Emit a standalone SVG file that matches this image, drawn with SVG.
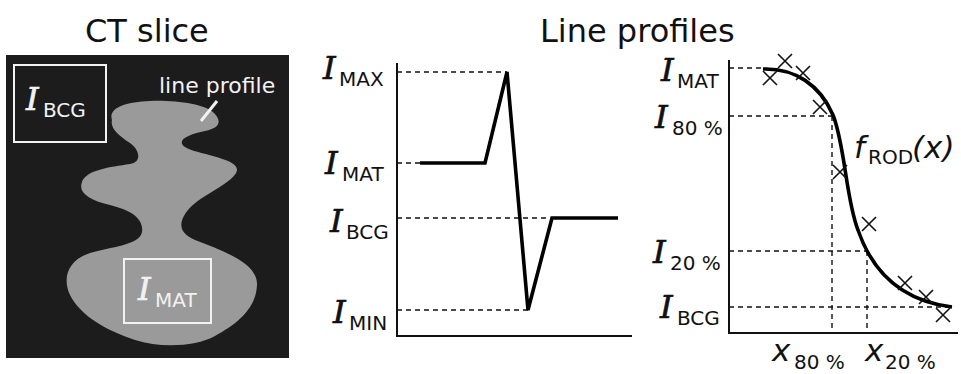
<svg xmlns="http://www.w3.org/2000/svg" width="961" height="374" viewBox="0 0 961 374">
<style>
.title{font-family:"DejaVu Sans",Verdana,sans-serif;font-size:32px;fill:#111}
.I{font-family:"DejaVu Serif","Liberation Serif",serif;font-style:italic;font-size:32px;stroke-width:0.7}
.sub{font-family:"DejaVu Sans",Verdana,sans-serif;font-size:20px}
.lbl{fill:#111;stroke:#111}
.lbl .sub,.wl .sub,.lbl .it{stroke:none}
.wl{fill:#f2f2f2;stroke:#f2f2f2}
.it{font-family:"DejaVu Sans",Verdana,sans-serif;font-style:italic;font-size:31px}
.axis{stroke:#111;stroke-width:2;fill:none}
.dash{stroke:#111;stroke-width:1.4;stroke-dasharray:5,4;fill:none}
.thick{stroke:#000;stroke-width:3.6;fill:none;stroke-linejoin:miter}
.cross{stroke:#111;stroke-width:1.6;fill:none}
</style>
<rect width="961" height="374" fill="#fff"/>

<text class="title" x="85" y="42">CT slice</text>
<text class="title" x="540" y="42">Line profiles</text>

<g id="ct-slice">
  <rect x="6" y="55" width="283" height="303" fill="#1c1c1c"/>
  <path fill="#9a9a9a" d="M 112 120 C 108 108, 125 102, 150 101 C 175 100, 205 104, 214 113 C 222 121, 220 128, 205 131 C 190 134, 175 140, 185 147 C 195 154, 238 158, 237 170 C 236 182, 200 195, 188 210 C 180 220, 176 232, 195 240 C 220 250, 258 262, 257 285 C 256 310, 235 325, 215 336 C 195 347, 160 348, 135 340 C 105 330, 80 315, 70 295 C 62 278, 68 260, 90 253 C 110 247, 140 245, 142 232 C 144 218, 130 210, 110 205 C 88 200, 78 192, 82 182 C 86 170, 110 167, 130 164 C 142 162, 140 150, 130 143 C 118 135, 110 128, 112 120 Z"/>
</g>
<g id="bcg-box">
  <rect x="14" y="65" width="92" height="77" fill="none" stroke="#f2f2f2" stroke-width="2"/>
  <text class="wl"><tspan class="I" x="26" y="110">I</tspan><tspan class="sub" x="43" y="117">BCG</tspan></text>
</g>
<g id="mat-box">
  <rect x="124" y="259" width="87" height="64" fill="none" stroke="#f2f2f2" stroke-width="2"/>
  <text class="wl"><tspan class="I" x="138" y="300">I</tspan><tspan class="sub" x="155" y="307">MAT</tspan></text>
</g>
<g id="line-profile-label">
  <text x="159" y="93" fill="#f2f2f2" font-family="DejaVu Sans,Verdana,sans-serif" font-size="22">line profile</text>
  <line x1="217" y1="101" x2="201" y2="121" stroke="#f2f2f2" stroke-width="3"/>
</g>

<g id="profile-chart">
  <path class="axis" d="M 397 63 V 336 H 632"/>
  <path class="dash" d="M 397 72 H 507 M 397 163 H 420 M 397 218 H 550 M 397 310 H 528"/>
  <path class="thick" d="M 420 163 H 485 L 507 72 L 528 310 L 552 218 H 618"/>
  <text class="lbl"><tspan class="I" x="323" y="79">I</tspan><tspan class="sub" x="339" y="86">MAX</tspan></text>
  <text class="lbl"><tspan class="I" x="325" y="174">I</tspan><tspan class="sub" x="342" y="181">MAT</tspan></text>
  <text class="lbl"><tspan class="I" x="330" y="232">I</tspan><tspan class="sub" x="346" y="239">BCG</tspan></text>
  <text class="lbl"><tspan class="I" x="333" y="323">I</tspan><tspan class="sub" x="349" y="330">MIN</tspan></text>
</g>

<g id="fit-chart">
  <path class="axis" d="M 729 60 V 333 H 958"/>
  <path class="dash" d="M 729 68 H 763 M 729 116 H 832 M 729 251 H 867 M 729 307 H 952 M 832 116 V 333 M 867 251 V 333"/>
  <path class="thick" d="M 763 69 C 795 68, 820 85, 833 115 C 845 145, 846 200, 858 230 C 870 265, 895 300, 952 307"/>
  <g class="cross">
    <path d="M 763 71 l 14 14 m 0 -14 l -14 14"/>
    <path d="M 778 54 l 14 14 m 0 -14 l -14 14"/>
    <path d="M 796 66 l 14 14 m 0 -14 l -14 14"/>
    <path d="M 813 100 l 14 14 m 0 -14 l -14 14"/>
    <path d="M 833 165 l 14 14 m 0 -14 l -14 14"/>
    <path d="M 862 217 l 14 14 m 0 -14 l -14 14"/>
    <path d="M 898 276 l 14 14 m 0 -14 l -14 14"/>
    <path d="M 919 290 l 14 14 m 0 -14 l -14 14"/>
    <path d="M 936 308 l 14 14 m 0 -14 l -14 14"/>
  </g>
  <text class="lbl"><tspan class="I" x="661" y="81">I</tspan><tspan class="sub" x="677" y="88">MAT</tspan></text>
  <text class="lbl"><tspan class="I" x="655" y="128">I</tspan><tspan class="sub" x="672" y="135">80 %</tspan></text>
  <text class="lbl"><tspan class="I" x="653" y="263">I</tspan><tspan class="sub" x="670" y="270">20 %</tspan></text>
  <text class="lbl"><tspan class="I" x="660" y="318">I</tspan><tspan class="sub" x="677" y="325">BCG</tspan></text>
  <text class="lbl"><tspan class="it" x="854" y="158">f</tspan><tspan class="sub" x="868" y="164">ROD</tspan><tspan class="it" x="912" y="158">(x)</tspan></text>
  <text class="lbl"><tspan class="it" x="772" y="361" font-size="34">x</tspan><tspan class="sub" x="794" y="369">80 %</tspan></text>
  <text class="lbl"><tspan class="it" x="865" y="361" font-size="34">x</tspan><tspan class="sub" x="885" y="369">20 %</tspan></text>
</g>
</svg>
